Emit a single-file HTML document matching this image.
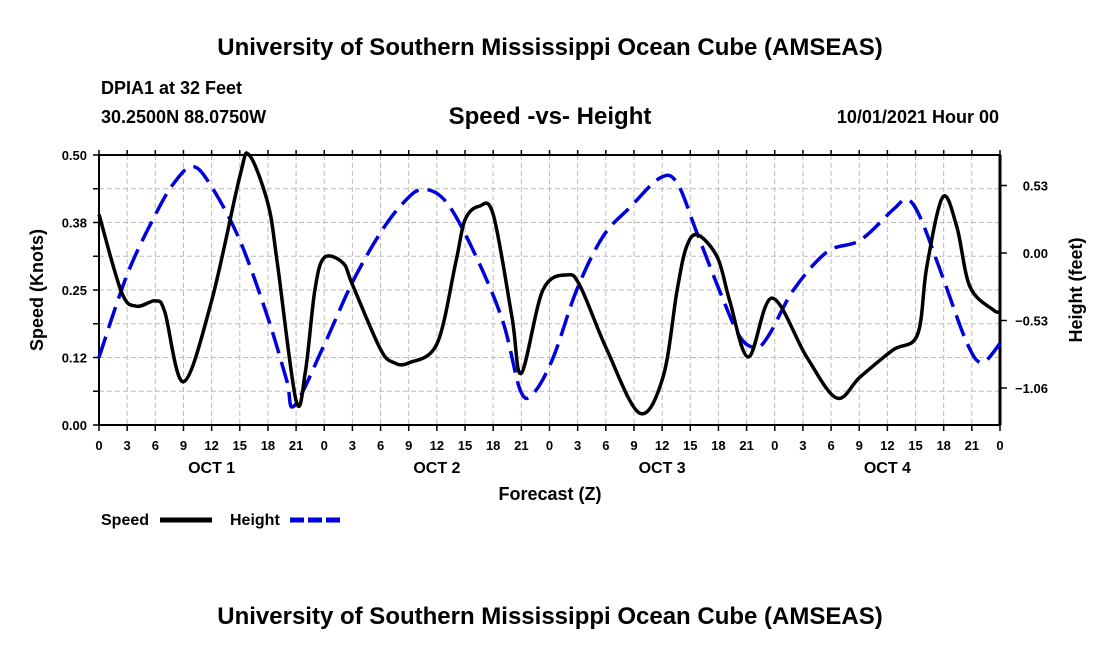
<!DOCTYPE html>
<html><head><meta charset="utf-8"><style>
body{margin:0;background:#fff;width:1100px;height:650px;overflow:hidden}
svg text{font-family:"Liberation Sans",Arial,sans-serif;font-weight:bold;fill:#000}
</style></head><body>
<svg id="chart" width="1100" height="650" xmlns="http://www.w3.org/2000/svg">
<text x="550" y="55" font-size="24" text-anchor="middle">University of Southern Mississippi Ocean Cube (AMSEAS)</text>
<text x="101" y="94" font-size="18">DPIA1 at 32 Feet</text>
<text x="101" y="123" font-size="18">30.2500N  88.0750W</text>
<text x="550" y="124" font-size="24" text-anchor="middle">Speed -vs- Height</text>
<text x="999" y="123" font-size="18" text-anchor="end">10/01/2021 Hour 00</text>
<text x="550" y="500" font-size="18" text-anchor="middle">Forecast (Z)</text>
<text transform="translate(43,290) rotate(-90)" font-size="18" text-anchor="middle">Speed (Knots)</text>
<text transform="translate(1082,290) rotate(-90)" font-size="18" text-anchor="middle">Height (feet)</text>
<g>
<text x="101" y="525" font-size="16">Speed</text>
<line x1="160" y1="520" x2="212" y2="520" stroke="#000" stroke-width="5"/>
<text x="230" y="525" font-size="16">Height</text>
<line x1="290" y1="520" x2="342" y2="520" stroke="#0000dd" stroke-width="5" stroke-dasharray="14,4"/>
</g>
<text x="550" y="624" font-size="24" text-anchor="middle">University of Southern Mississippi Ocean Cube (AMSEAS)</text>
<g id="plot"></g>
</svg>
<script>
const speedHours=[0,2.4,4,6,7,9,12,15,16,18,19,21,22,23,24,26,27,30,31.5,33,36,38,39,40.5,42,44,45,47.3,49.9,51.3,54.1,57.6,60.1,61.6,62.6,63.8,65.9,67.2,69.2,71.7,75.4,78.6,81.1,84.6,87.2,88.2,89.9,91.4,92.8,95.3,96];
const speedValues=[0.39,0.246,0.22,0.23,0.21,0.08,0.23,0.46,0.50,0.41,0.30,0.045,0.10,0.25,0.31,0.30,0.26,0.14,0.115,0.115,0.15,0.30,0.38,0.405,0.39,0.20,0.096,0.25,0.278,0.256,0.14,0.022,0.089,0.25,0.33,0.352,0.31,0.23,0.126,0.235,0.126,0.05,0.089,0.139,0.167,0.293,0.422,0.367,0.256,0.213,0.21];
const heightHours=[0,3,6,8,10,12,15,18,20,20.8,24,27,30,32.5,34.5,37,40,43,44.9,46.3,48.4,50.9,53.7,56.6,59.8,61.6,63.7,66.2,68.3,70.1,71.5,74,77.6,81.1,84.6,86.1,87.5,89.9,92.5,94.1,96];
const heightValues=[-0.82,-0.17,0.30,0.55,0.68,0.52,0.10,-0.51,-1.0,-1.2,-0.72,-0.23,0.16,0.40,0.50,0.40,0.0,-0.53,-1.08,-1.10,-0.82,-0.29,0.13,0.36,0.59,0.55,0.16,-0.31,-0.66,-0.74,-0.63,-0.29,0.01,0.10,0.34,0.42,0.28,-0.19,-0.71,-0.86,-0.71];
const xTickLabels=["0","3","6","9","12","15","18","21"];
const dayLabels=["OCT 1","OCT 2","OCT 3","OCT 4"];
const speedTicks=[0,0.125,0.25,0.375,0.5];
const speedTickLabels=["0.00","0.12","0.25","0.38","0.50"];
const heightTicks=[0.53,0,-0.53,-1.06];
const heightTickLabels=["0.53","0.00","\u22120.53","\u22121.06"];

const X0=99,X1=1000,Y0=155,Y1=425;
const xs=h=>X0+(X1-X0)*h/96;
const ys=v=>Y1-(Y1-Y0)*v/0.5;
const yh=v=>253-v*(67.5/0.53);
const NS="http://www.w3.org/2000/svg";
const g=document.getElementById('plot');
function mk(t,a){const e=document.createElementNS(NS,t);for(const k in a)e.setAttribute(k,a[k]);g.appendChild(e);return e;}
for(let i=1;i<32;i++){const l=mk('line',{x1:xs(i*3),x2:xs(i*3),y1:Y0,y2:Y1,stroke:'#bbb','stroke-dasharray':'5,3','stroke-width':1});

}
for(let i=1;i<8;i++){const v=i*0.0625;const l=mk('line',{x1:X0,x2:X1,y1:ys(v),y2:ys(v),stroke:'#bbb','stroke-dasharray':'5,3','stroke-width':1});

}
const fr=mk('rect',{x:X0,y:Y0,width:X1-X0,height:Y1-Y0,fill:'none',stroke:'#000','stroke-width':2});


for(let i=0;i<=32;i++){const x=xs(i*3);
mk('line',{x1:x,x2:x,y1:Y1,y2:Y1+6,stroke:'#000','stroke-width':1.5});
mk('line',{x1:x,x2:x,y1:Y0,y2:Y0-5,stroke:'#000','stroke-width':1.5});
const t=mk('text',{x:x,y:450,'font-size':13,'text-anchor':'middle'});t.textContent=xTickLabels[i%8];

}
dayLabels.forEach((d,i)=>{const t=mk('text',{x:xs(i*24+12),y:473,'font-size':16,'text-anchor':'middle'});t.textContent=d;

});
for(let i=0;i<=8;i++){const y=ys(i*0.0625);mk('line',{x1:X0-6,x2:X0,y1:y,y2:y,stroke:'#000','stroke-width':1.5});}
speedTicks.forEach((v,i)=>{const t=mk('text',{x:87,y:ys(v)+5,'font-size':13,'text-anchor':'end'});t.textContent=speedTickLabels[i];

});
heightTicks.forEach((v,i)=>{const y=yh(v);mk('line',{x1:X1,x2:X1+7,y1:y,y2:y,stroke:'#000','stroke-width':1.5});
const t=mk('text',{x:1048,y:y+5,'font-size':13,'text-anchor':'end'});t.textContent=heightTickLabels[i];

});
mk('line',{x1:X1,x2:X1,y1:Y0,y2:Y1,stroke:'#000','stroke-width':3});
function path(pts){let d='M'+pts[0][0]+','+pts[0][1];
for(let i=0;i<pts.length-1;i++){const p0=pts[Math.max(0,i-1)],p1=pts[i],p2=pts[i+1],p3=pts[Math.min(pts.length-1,i+2)];
const c1=[p1[0]+(p2[0]-p0[0])/6,p1[1]+(p2[1]-p0[1])/6],c2=[p2[0]-(p3[0]-p1[0])/6,p2[1]-(p3[1]-p1[1])/6];
d+=' C'+c1[0]+','+c1[1]+' '+c2[0]+','+c2[1]+' '+p2[0]+','+p2[1];}return d;}
const hp=mk('path',{d:path(heightHours.map((h,i)=>[xs(h),yh(heightValues[i])])),fill:'none',stroke:'#0000dd','stroke-width':3.5,'stroke-dasharray':'22,9'});


const sp=mk('path',{d:path(speedHours.map((h,i)=>[xs(h),ys(speedValues[i])])),fill:'none',stroke:'#000','stroke-width':3.5});


</script>
</body></html>
